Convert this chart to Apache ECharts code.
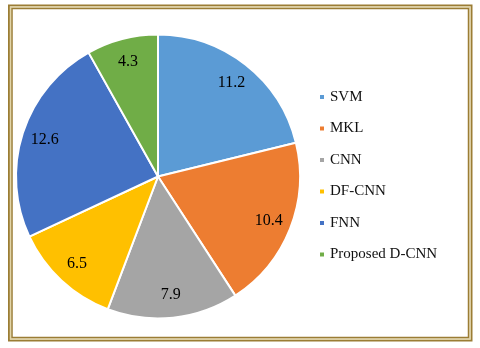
<!DOCTYPE html>
<html>
<head>
<meta charset="utf-8">
<script src="https://cdn.jsdelivr.net/npm/echarts@6/dist/echarts.min.js"></script>
<style>html,body{margin:0;padding:0;background:#fff}#c{width:480px;height:348px}</style>
</head>
<body>
<div id="c"></div>
<script>
const categories = ['SVM', 'MKL', 'CNN', 'DF-CNN', 'FNN', 'Proposed D-CNN'];
const values = [11.2, 10.4, 7.9, 6.5, 12.6, 4.3];
const colors = ['#5B9BD5', '#ED7D31', '#A5A5A5', '#FFC000', '#4472C4', '#70AD47'];

const chart = echarts.init(document.getElementById('c'), null, {renderer: 'canvas'});
const data = categories.map((n, i) => ({name: n, value: values[i], itemStyle: {color: colors[i]}}));
const CX = 158, CY = 176.5, R = 142;
chart.setOption({
  animation: false,
  legend: {
    orient: 'vertical',
    left: 313,
    top: 84,
    itemWidth: 6,
    itemHeight: 6,
    itemGap: 15.5,
    icon: 'rect',
    data: categories,
    textStyle: {fontFamily: 'Liberation Serif', fontSize: 15, color: '#111', lineHeight: 16, padding: [0, 0, 0, 0]},
    selectedMode: false
  },
  graphic: [
    {type: 'rect', shape: {x: 9, y: 5.5, width: 462.5, height: 335}, style: {fill: null, stroke: '#9b7d35', lineWidth: 2}},
    {type: 'rect', shape: {x: 10.5, y: 7, width: 459.5, height: 332}, style: {fill: null, stroke: '#e2d5a8', lineWidth: 1.5}},
    {type: 'rect', shape: {x: 12, y: 8.5, width: 456.5, height: 329}, style: {fill: null, stroke: '#9b7d35', lineWidth: 1.5}}
  ],
  series: [
    {
      type: 'pie',
      center: [CX, CY],
      radius: [0, R],
      startAngle: 90,
      clockwise: true,
      silent: true,
      label: {show: false},
      labelLine: {show: false},
      itemStyle: {borderColor: '#fff', borderWidth: 2},
      data: data
    },
    {
      type: 'pie',
      center: [CX, CY],
      radius: [90, R],
      startAngle: 90,
      clockwise: true,
      silent: true,
      legendHoverLink: false,
      itemStyle: {color: 'rgba(0,0,0,0)', borderWidth: 0},
      label: {show: true, position: 'inside', formatter: p => String(p.value),
        fontFamily: 'Liberation Serif', fontSize: 16, color: '#000'},
      labelLine: {show: false},
      data: categories.map((n, i) => ({name: n, value: values[i], itemStyle: {color: 'rgba(0,0,0,0)'}}))
    }
  ]
});
</script>
</body>
</html>
